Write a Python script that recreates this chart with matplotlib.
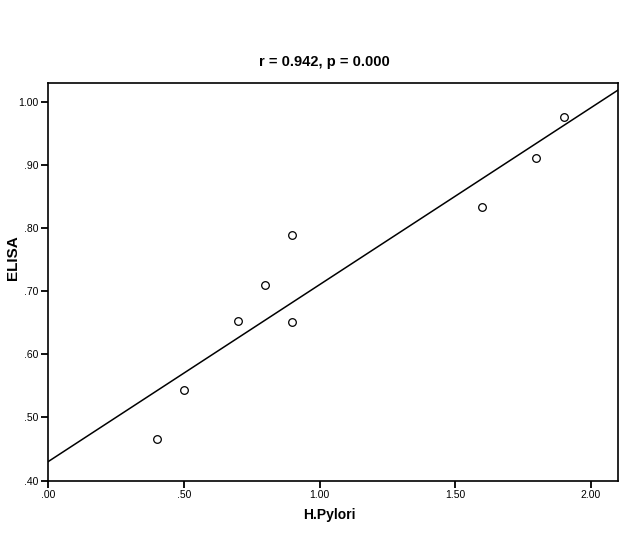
import numpy as np
import matplotlib
matplotlib.use("Agg")
import matplotlib.pyplot as plt
from matplotlib.ticker import FuncFormatter

plt.rcParams['font.family'] = ['Liberation Sans', 'DejaVu Sans']

# H.Pylori vs ELISA
h_pylori = [0.4, 0.5, 0.7, 0.8, 0.9, 0.9, 1.6, 1.8, 1.9]
elisa = [0.466, 0.543, 0.653, 0.710, 0.789, 0.652, 0.834, 0.912, 0.977]
x_ticks = [0.0, 0.5, 1.0, 1.5, 2.0]
y_ticks = [0.4, 0.5, 0.6, 0.7, 0.8, 0.9, 1.0]


def fmt(v, pos):
    s = f'{v:.2f}'
    if s.startswith('0'):
        s = s[1:]
    return s


fig = plt.figure(figsize=(6.26, 5.41), dpi=100)
ax = fig.add_axes([0.0772, 0.1118, 0.9098, 0.7353])

# linea de ajuste
b, a = np.polyfit(h_pylori, elisa, 1)
xl = np.array([0.0, 2.1])
ax.plot(xl, a + b * xl, color='black', lw=1.1)
ax.plot(h_pylori, elisa, 'o', mfc='white', mec='black', ms=5.5, mew=0.9, ls='none')

ax.set_xlim(0, 2.1)
ax.set_ylim(0.4, 1.031)
ax.set_xticks(x_ticks)
ax.set_yticks(y_ticks)
ax.xaxis.set_major_formatter(FuncFormatter(fmt))
ax.yaxis.set_major_formatter(FuncFormatter(fmt))
ax.tick_params(direction='out', length=5, width=1.3, labelsize=7.5, pad=2)
for sp in ax.spines.values():
    sp.set_linewidth(1.2)

fig.text(0.5176, 0.886, 'r = 0.942, p = 0.000', ha='center', va='center',
         fontsize=10.5, fontweight='bold')
fig.text(0.5256, 0.048, 'H.Pylori', ha='center', va='center',
         fontsize=10, fontweight='bold')
fig.text(0.021, 0.523, 'ELISA', ha='center', va='center', rotation=90,
         fontsize=11, fontweight='bold')

fig.savefig('out.png', dpi=100)
